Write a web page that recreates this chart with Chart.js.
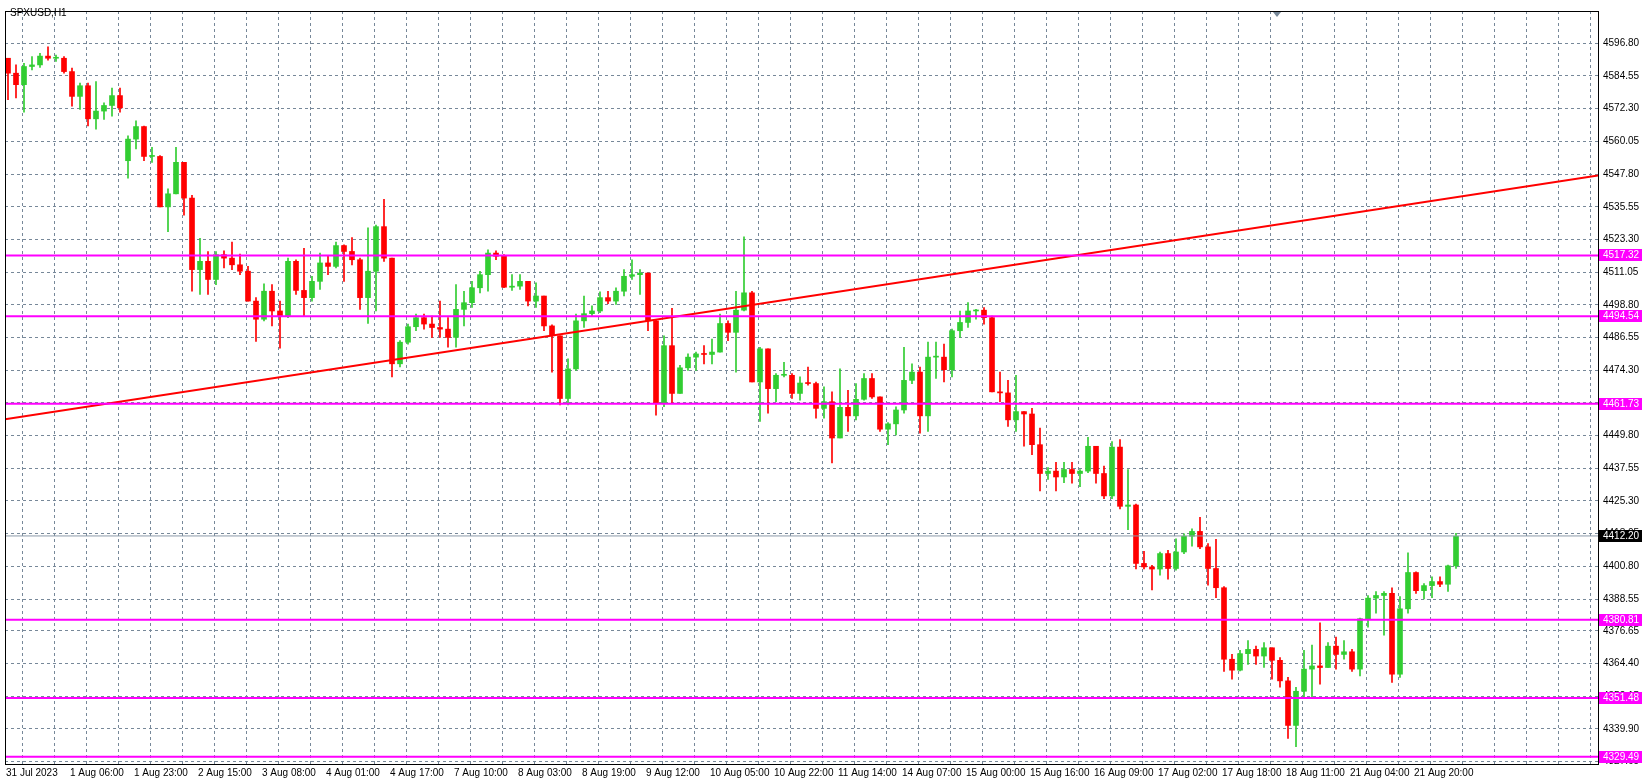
<!DOCTYPE html>
<html>
<head>
<meta charset="utf-8">
<script src="https://cdn.jsdelivr.net/npm/chart.js@4.4.0/dist/chart.umd.min.js"></script>
<style>
  html, body { margin: 0; padding: 0; background: #fff; }
  #wrap { width: 1642px; height: 784px; position: relative; }
</style>
</head>
<body>
<div id="wrap"><canvas id="grafico" width="1642" height="784"></canvas></div>
<script>
// SPXUSD H1, candles (two hours per candle)
const firstOpen = 4591.2;
const gapOpens = { 15: 4552.8 };

const closes = [
  4585.6, 4581.3, 4588.1, 4588.7, 4592.0, 4591.2, 4591.2, 4586.2, 4576.9, 4580.9,
  4568.5, 4571.4, 4573.5, 4577.2, 4572.6, 4560.9, 4565.6, 4554.4, 4554.4, 4535.5,
  4540.4, 4552.2, 4538.8, 4512.0, 4515.1, 4508.3, 4517.6, 4516.3, 4513.8, 4511.4,
  4500.2, 4493.4, 4503.9, 4496.5, 4494.6, 4515.1, 4504.2, 4501.5, 4507.6, 4514.5,
  4513.2, 4521.0, 4518.8, 4515.7, 4501.5, 4511.4, 4528.1, 4516.3, 4476.7, 4484.8,
  4490.6, 4494.0, 4491.6, 4490.3, 4489.7, 4486.6, 4497.1, 4499.6, 4505.2, 4510.1,
  4518.2, 4517.0, 4505.4, 4505.8, 4507.6, 4500.2, 4502.1, 4490.9, 4487.2, 4463.7,
  4474.8, 4492.8, 4495.5, 4496.5, 4501.5, 4500.2, 4503.9, 4509.5, 4510.1, 4510.7,
  4492.8, 4461.9, 4483.5, 4465.6, 4475.2, 4479.2, 4480.4, 4480.2, 4481.1, 4491.8,
  4488.5, 4496.8, 4503.3, 4469.9, 4482.3, 4467.4, 4472.4, 4472.4, 4465.6, 4469.5,
  4469.3, 4460.0, 4462.5, 4448.9, 4460.4, 4457.2, 4463.4, 4471.2, 4464.3, 4452.2,
  4454.2, 4459.4, 4470.5, 4473.6, 4457.2, 4479.2, 4479.2, 4474.5, 4489.1, 4492.2,
  4496.5, 4496.8, 4494.0, 4466.2, 4465.8, 4455.7, 4458.8, 4457.9, 4446.4, 4435.6,
  4436.5, 4434.3, 4437.1, 4435.6, 4436.5, 4445.8, 4435.6, 4427.2, 4445.5, 4423.3,
  4423.8, 4401.9, 4400.6, 4399.8, 4405.6, 4400.0, 4406.2, 4412.1, 4413.9, 4408.1,
  4400.0, 4392.8, 4366.0, 4361.9, 4368.1, 4369.7, 4367.2, 4370.3, 4365.6, 4357.9,
  4341.2, 4354.0, 4362.3, 4363.5, 4362.9, 4370.9, 4367.8, 4368.8, 4362.3, 4381.2,
  4388.9, 4389.9, 4390.7, 4360.4, 4384.9, 4398.5, 4391.7, 4393.6, 4395.1, 4394.1,
  4401.0, 4412.1
];
const highs = [
  4591.2, 4588.7, 4589.3, 4591.8, 4593.0, 4595.5, 4592.4, 4591.8, 4587.5, 4581.9,
  4581.9, 4582.5, 4574.5, 4580.0, 4580.0, 4562.1, 4567.7, 4565.8, 4557.8, 4554.7,
  4542.3, 4557.8, 4552.2, 4539.8, 4523.7, 4518.8, 4518.8, 4519.0, 4522.3, 4517.8,
  4513.2, 4501.5, 4506.7, 4506.4, 4500.2, 4516.3, 4515.7, 4520.0, 4509.5, 4518.2,
  4517.0, 4522.3, 4521.3, 4524.0, 4516.3, 4527.7, 4528.7, 4538.3, 4516.3, 4485.4,
  4491.6, 4495.3, 4495.3, 4494.6, 4500.2, 4494.0, 4506.4, 4503.9, 4507.6, 4511.4,
  4519.4, 4519.0, 4517.6, 4510.1, 4510.1, 4506.7, 4507.0, 4502.1, 4491.3, 4484.8,
  4478.6, 4495.3, 4502.1, 4498.4, 4503.7, 4503.9, 4505.2, 4512.0, 4515.7, 4512.0,
  4510.7, 4493.4, 4487.2, 4497.5, 4476.1, 4480.4, 4481.1, 4483.5, 4486.0, 4495.3,
  4492.8, 4503.9, 4524.3, 4503.9, 4482.9, 4482.3, 4473.0, 4477.3, 4473.0, 4471.8,
  4475.5, 4469.9, 4468.1, 4466.2, 4474.8, 4466.8, 4469.3, 4473.0, 4473.0, 4464.3,
  4454.7, 4460.6, 4482.9, 4476.7, 4475.5, 4484.8, 4484.8, 4484.1, 4489.7, 4496.5,
  4499.6, 4497.1, 4497.8, 4494.6, 4473.6, 4470.5, 4472.4, 4458.8, 4460.0, 4452.6,
  4437.8, 4439.8, 4439.8, 4439.8, 4437.1, 4449.2, 4445.8, 4438.4, 4447.6, 4448.3,
  4437.1, 4424.1, 4406.4, 4401.2, 4406.2, 4406.8, 4411.1, 4413.0, 4414.9, 4419.2,
  4409.3, 4410.9, 4393.2, 4367.8, 4369.3, 4373.0, 4370.9, 4372.2, 4370.3, 4366.6,
  4359.2, 4355.5, 4369.3, 4371.3, 4379.6, 4372.2, 4374.3, 4373.0, 4369.7, 4381.4,
  4389.9, 4391.4, 4391.4, 4392.8, 4389.5, 4405.9, 4398.8, 4394.4, 4396.9, 4396.9,
  4401.3, 4413.2
];
const lows = [
  4575.7, 4576.3, 4571.0, 4586.8, 4587.8, 4590.5, 4590.0, 4585.6, 4573.2, 4572.0,
  4565.8, 4564.6, 4568.3, 4569.5, 4571.0, 4546.3, 4557.2, 4552.8, 4552.2, 4535.5,
  4526.2, 4540.4, 4532.4, 4503.9, 4502.7, 4502.7, 4506.4, 4512.6, 4512.0, 4510.1,
  4500.2, 4485.1, 4492.8, 4490.9, 4482.6, 4494.0, 4502.7, 4494.6, 4500.2, 4504.6,
  4510.1, 4512.6, 4507.6, 4513.8, 4497.1, 4491.8, 4496.5, 4515.1, 4471.8, 4475.5,
  4484.1, 4489.1, 4489.7, 4486.6, 4486.6, 4482.9, 4482.9, 4490.9, 4497.8, 4503.3,
  4503.9, 4515.7, 4505.2, 4504.2, 4504.6, 4498.4, 4497.8, 4489.1, 4473.6, 4461.3,
  4461.3, 4474.2, 4490.3, 4494.6, 4495.9, 4499.2, 4499.0, 4502.1, 4508.3, 4502.7,
  4489.1, 4457.5, 4460.6, 4461.9, 4466.2, 4474.2, 4474.2, 4476.7, 4476.7, 4481.1,
  4485.4, 4473.6, 4496.5, 4469.9, 4455.1, 4458.2, 4462.5, 4471.8, 4463.7, 4463.1,
  4468.7, 4456.3, 4456.3, 4439.6, 4449.5, 4451.4, 4455.7, 4463.1, 4463.7, 4451.4,
  4446.4, 4450.1, 4458.2, 4469.3, 4450.7, 4451.4, 4471.2, 4469.9, 4471.8, 4486.6,
  4490.3, 4493.4, 4491.6, 4466.2, 4462.5, 4453.2, 4451.4, 4445.8, 4442.7, 4429.1,
  4433.4, 4429.1, 4432.2, 4432.0, 4430.7, 4435.9, 4432.0, 4426.2, 4426.2, 4422.3,
  4414.6, 4399.8, 4399.8, 4392.0, 4397.5, 4396.0, 4399.4, 4405.6, 4408.4, 4407.4,
  4393.8, 4389.1, 4361.4, 4358.5, 4361.6, 4364.1, 4364.1, 4362.9, 4358.5, 4355.5,
  4336.3, 4333.2, 4351.2, 4351.2, 4356.7, 4365.4, 4362.3, 4366.0, 4361.4, 4359.8,
  4378.0, 4383.3, 4375.0, 4357.3, 4359.2, 4383.3, 4390.7, 4388.6, 4389.1, 4393.2,
  4391.4, 4400.0
];

const xLabels = [
  '31 Jul 2023', '1 Aug 06:00', '1 Aug 23:00', '2 Aug 15:00', '3 Aug 08:00', '4 Aug 01:00',
  '4 Aug 17:00', '7 Aug 10:00', '8 Aug 03:00', '8 Aug 19:00', '9 Aug 12:00', '10 Aug 05:00',
  '10 Aug 22:00', '11 Aug 14:00', '14 Aug 07:00', '15 Aug 00:00', '15 Aug 16:00', '16 Aug 09:00',
  '17 Aug 02:00', '17 Aug 18:00', '18 Aug 11:00', '21 Aug 04:00', '21 Aug 20:00'
];
const yTicks = [
  4596.80, 4584.55, 4572.30, 4560.05, 4547.80, 4535.55, 4523.30, 4511.05, 4498.80, 4486.55,
  4474.30, 4462.05, 4449.80, 4437.55, 4425.30, 4413.05, 4400.80, 4388.55, 4376.65, 4364.40,
  4352.15, 4339.90, 4327.65
];
const levels = [4517.32, 4494.54, 4461.73, 4380.81, 4351.48, 4329.49];
const lastPrice = 4412.20;
const trendStart = 4455.9;
const trendEnd = 4547.3;

const X_MIN = -0.25, X_MAX = 398;
const UP = '#32cd32', DOWN = '#ff0000', MAGENTA = '#ff00ff';

const opens = closes.map((c, i) => gapOpens[i] !== undefined ? gapOpens[i] : (i === 0 ? firstOpen : closes[i - 1]));
const corpos = closes.map((c, i) => ({ x: i * 2 + 0.5, y: [opens[i], c] }));
const pavios = closes.map((c, i) => ({
  x: i * 2 + 0.5,
  y: [Math.min(lows[i], opens[i], c), Math.max(highs[i], opens[i], c)]
}));
const cores = closes.map((c, i) => c >= opens[i] ? UP : DOWN);

function linha(v, cor, largura) {
  return {
    type: 'line', data: [{ x: X_MIN, y: v }, { x: X_MAX, y: v }],
    borderColor: cor, borderWidth: largura, pointRadius: 0, fill: false, order: 0
  };
}

const datasets = [
  { type: 'bar', data: pavios, backgroundColor: cores, barThickness: 1, grouped: false, order: 3 },
  { type: 'bar', data: corpos, backgroundColor: cores, barThickness: 5, minBarLength: 1, grouped: false, order: 2 },
  linha(lastPrice, '#8c9aa8', 1)
];
levels.forEach(v => datasets.push(linha(v, MAGENTA, 2)));
datasets.push({
  type: 'line', data: [{ x: X_MIN, y: trendStart }, { x: X_MAX, y: trendEnd }],
  borderColor: '#ff0000', borderWidth: 2, pointRadius: 0, fill: false, order: 0
});

const moldura = {
  id: 'moldura',
  afterDraw(chart) {
    const { ctx, chartArea: a, scales: { y } } = chart;
    ctx.save();
    ctx.strokeStyle = '#000';
    ctx.lineWidth = 1;
    ctx.strokeRect(a.left + 0.5, a.top + 0.5, a.right - a.left, a.bottom - a.top);
    ctx.font = '10px "Liberation Sans", Arial, sans-serif';
    ctx.textBaseline = 'middle';
    ctx.textAlign = 'left';
    const tag = (v, fundo) => {
      const py = Math.round(y.getPixelForValue(v));
      ctx.fillStyle = fundo;
      ctx.fillRect(a.right + 1, py - 6, 44, 12);
      ctx.fillStyle = '#fff';
      ctx.fillText(v.toFixed(2), a.right + 5, py + 0.5);
    };
    levels.forEach(v => tag(v, MAGENTA));
    tag(lastPrice, '#000');
    ctx.fillStyle = '#000';
    ctx.fillText('SPXUSD,H1', 10, 13);
    ctx.fillStyle = '#778899';
    ctx.beginPath();
    ctx.moveTo(1273, a.top + 1); ctx.lineTo(1281, a.top + 1); ctx.lineTo(1277, a.top + 6);
    ctx.fill();
    ctx.restore();
  }
};

document.addEventListener('DOMContentLoaded', function () {
  const ctx = document.getElementById('grafico').getContext('2d');
  new Chart(ctx, {
    data: { datasets },
    options: {
      responsive: false, animation: false, devicePixelRatio: 1,
      layout: { padding: { left: 5, top: 4, right: 0, bottom: 0 } },
      plugins: { legend: { display: false }, tooltip: { enabled: false } },
      scales: {
        x: {
          type: 'linear', min: X_MIN, max: X_MAX, offset: false,
          afterBuildTicks: s => { s.ticks = []; for (let v = 0; v <= 392; v += 8) s.ticks.push({ value: v }); },
          afterFit: s => { s.height = 20; },
          ticks: {
            autoSkip: false, maxRotation: 0, align: 'start', padding: 3,
            color: '#000', font: { family: 'Liberation Sans', size: 10 },
            callback: v => (v % 16 === 0 && xLabels[v / 16]) ? xLabels[v / 16] : ''
          },
          grid: { color: '#778899', drawTicks: false, tickBorderDash: [3, 3] },
          border: { display: false, dash: [3, 3] }
        },
        y: {
          position: 'right', min: 4326.75, max: 4608.9,
          afterBuildTicks: s => { s.ticks = yTicks.map(v => ({ value: v })); },
          afterFit: s => { s.width = 44; },
          ticks: {
            autoSkip: false, padding: 5, color: '#000',
            font: { family: 'Liberation Sans', size: 10 },
            callback: v => v.toFixed(2)
          },
          grid: { color: '#778899', drawTicks: false },
          border: { display: false, dash: [3, 3] }
        }
      }
    },
    plugins: [moldura]
  });
});
</script>
</body>
</html>
